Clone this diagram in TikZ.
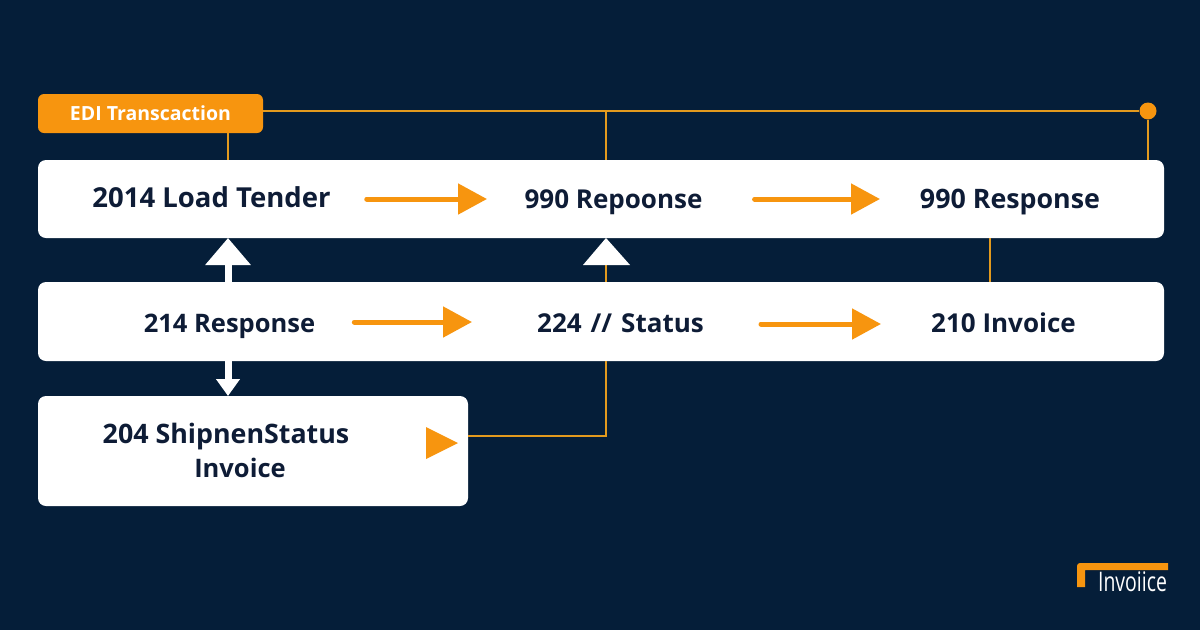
\documentclass[tikz,border=0pt]{standalone}
\usepackage{fontspec}
\setmainfont{Open Sans}
\usetikzlibrary{arrows.meta,positioning}
\definecolor{navy}{HTML}{051E39}
\definecolor{ink}{HTML}{0E1C36}
\definecolor{amber}{HTML}{F7950F}
\definecolor{wire}{HTML}{E39A1E}
\newcommand{\lblsize}[1]{\fontsize{#1}{30}\selectfont\bfseries}
\tikzset{
  bar/.style={fill=white, rounded corners=8pt},
  lbl/.style={font=\lblsize{25.5}, text=ink, inner sep=0pt, anchor=center, text height=19pt, text depth=6pt},
  wireline/.style={draw=wire, line width=2pt},
  flow/.style={draw=amber, line width=5pt, line cap=round, -{Triangle[length=29pt,width=30pt]}},
  upbig/.style={draw=white, line width=7pt, -{Triangle[length=27pt,width=44pt]}},
  downsmall/.style={draw=white, line width=7pt, -{Triangle[length=17pt,width=23pt]}}
}
\begin{document}
\begin{tikzpicture}[x=1pt,y=-1pt]
  \fill[navy] (0,0) rectangle (1200,630);
  \useasboundingbox (0,0) rectangle (1200,630);
  % boxes
  \path[bar] (38,160) rectangle (1164,238);
  \path[bar] (38,282) rectangle (1164,361);
  \path[bar] (38,396) rectangle (468,506);
  \coordinate (top1) at (228,160);
  \coordinate (top2) at (606,160);
  \coordinate (top3) at (1148,160);
  \coordinate (top4) at (990,238);
  \coordinate (mid4) at (990,282);
  \coordinate (top5) at (228,238);
  \coordinate (mid5) at (228,282);
  \coordinate (mid6) at (228,361);
  \coordinate (low6) at (228,396);
  \coordinate (top7) at (606,238);
  \coordinate (mid7) at (606,282);
  \coordinate (mid8) at (606,361);
  \coordinate (low8) at (468,436);
  % badge
  \node[fill=amber, rounded corners=6pt, minimum width=225pt, minimum height=39pt, inner sep=0pt,
        text=white, font=\fontsize{19.5}{24}\selectfont\bfseries] (badge) at (150.5,113.5) {EDI Transcaction};
  \node[circle, fill=amber, minimum size=17pt, inner sep=0pt] (dot) at (1148,111) {};
  % thin lines
  \draw[wireline] (badge.east |- dot) -- (dot);
  \draw[wireline] (228,133) -- (top1);
  \draw[wireline] (606,111) -- (top2);
  \draw[wireline] (dot) -- (top3);
  \draw[wireline] (top4) -- (mid4);
  \draw[wireline] (low8) -| (mid8);
  \draw[wireline] (606,262) -- (mid7);
  % labels
  \node[lbl, font=\lblsize{27.5}] (tender) at (211.5,200.5) {2014 Load Tender};
  \node[lbl, font=\lblsize{26}] (repone) at (613.5,201.5) {990 Repoonse};
  \node[lbl, font=\lblsize{26.8}] (reptwo) at (1010,201.5) {990 Response};
  \node[lbl] (resp) at (229.5,325.5) {214 Response};
  \node[lbl, font=\lblsize{26}] (status) at (620.5,325.5) {224\hspace{9pt}//\hspace{9pt}Status};
  \node[lbl, font=\lblsize{26}] (inv) at (1003.5,325.5) {210 Invoice};
  \node[lbl, font=\lblsize{26.8}] (ship) at (226,436.5) {204 ShipnenStatus};
  \node[lbl] (shipinv) at (240,470.5) {Invoice};
  % orange arrows
  \draw[flow] (tender.east) ++(36,-1.5) coordinate (a1) -- (487,199);
  \draw[flow] (repone.east) ++(52,-2.5) -- (880,199);
  \draw[flow] (resp.east) ++(39,-3.5) -- (472,322);
  \draw[flow] (status.east) ++(57,-1.5) -- (881,324);
  \fill[amber] (426,427) -- (458,443) -- (426,459) -- cycle;
  % white arrows
  \draw[upbig] (mid5) -- (top5);
  \draw[downsmall] (mid6) -- (low6);
  \fill[white] (top7) -- (630,265) -- (583,265) -- cycle;
  % corner mark
  \fill[amber] (1077,587) -- (1077,566) arc[start angle=180, end angle=90, radius=3pt] -- (1168,563) -- (1168,570) -- (1085,570) -- (1085,587) -- cycle;
  \node[text=white, inner sep=0pt, font=\fontsize{27}{30}\selectfont, xscale=0.72] (mark) at (1132.5,582) {Invoiice};
\end{tikzpicture}
\end{document}
